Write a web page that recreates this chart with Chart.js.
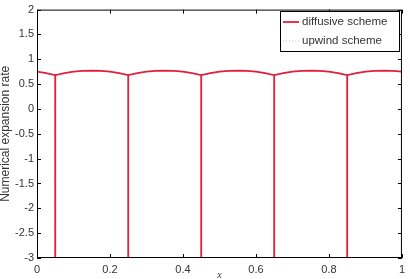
<!DOCTYPE html>
<html>
<head>
<meta charset="utf-8">
<script src="https://cdn.jsdelivr.net/npm/chart.js@4/dist/chart.umd.min.js"></script>
<style>
  body { margin: 0; background: #fff; }
  canvas { display: block; }
</style>
</head>
<body>
<canvas id="myChart" width="410" height="279"></canvas>
<script>
// posiciones en x (las caidas se repiten 3 veces para dibujar la linea vertical)
const xs = [0, 0.025,
    0.05, 0.05, 0.05, 0.075, 0.1, 0.125, 0.15, 0.175, 0.2, 0.225,
    0.25, 0.25, 0.25, 0.275, 0.3, 0.325, 0.35, 0.375, 0.4, 0.425,
    0.45, 0.45, 0.45, 0.475, 0.5, 0.525, 0.55, 0.575, 0.6, 0.625,
    0.65, 0.65, 0.65, 0.675, 0.7, 0.725, 0.75, 0.775, 0.8, 0.825,
    0.85, 0.85, 0.85, 0.875, 0.9, 0.925, 0.95, 0.975, 1];

const diffusive = [0.75, 0.72,
    0.68, -3, 0.68, 0.72, 0.75, 0.765, 0.77, 0.765, 0.75, 0.72,
    0.68, -3, 0.68, 0.72, 0.75, 0.765, 0.77, 0.765, 0.75, 0.72,
    0.68, -3, 0.68, 0.72, 0.75, 0.765, 0.77, 0.765, 0.75, 0.72,
    0.68, -3, 0.68, 0.72, 0.75, 0.765, 0.77, 0.765, 0.75, 0.72,
    0.68, -3, 0.68, 0.72, 0.75, 0.765, 0.77, 0.765, 0.75];

const upwind = [0.75, 0.72,
    0.68, -3, 0.68, 0.72, 0.75, 0.765, 0.77, 0.765, 0.75, 0.72,
    0.68, -3, 0.68, 0.72, 0.75, 0.765, 0.77, 0.765, 0.75, 0.72,
    0.68, -3, 0.68, 0.72, 0.75, 0.765, 0.77, 0.765, 0.75, 0.72,
    0.68, -3, 0.68, 0.72, 0.75, 0.765, 0.77, 0.765, 0.75, 0.72,
    0.68, -3, 0.68, 0.72, 0.75, 0.765, 0.77, 0.765, 0.75];

const seriesNames = ['diffusive scheme', 'upwind scheme'];
const xTicks = [0, 0.2, 0.4, 0.6, 0.8, 1];
const yTicks = [-3, -2.5, -2, -1.5, -1, -0.5, 0, 0.5, 1, 1.5, 2];

const FONT = "'Liberation Sans', Arial, sans-serif";

function toPoints(ys) {
    return xs.map((x, i) => ({ x: x, y: ys[i] }));
}

// marco negro, marcas hacia dentro y leyenda con caja (estilo matlab)
const framePlugin = {
    id: 'frame',
    afterDraw(chart) {
        const ctx = chart.ctx;
        const a = chart.chartArea;
        const sx = chart.scales.x;
        const sy = chart.scales.y;
        ctx.save();
        ctx.strokeStyle = '#000';
        ctx.lineWidth = 1;
        ctx.strokeRect(a.left + 0.5, a.top + 0.5, a.right - a.left - 1, a.bottom - a.top - 1);
        ctx.beginPath();
        xTicks.forEach(v => {
            let px = Math.round(sx.getPixelForValue(v)) + 0.5;
            ctx.moveTo(px, a.bottom); ctx.lineTo(px, a.bottom - 4);
            ctx.moveTo(px, a.top); ctx.lineTo(px, a.top + 4);
        });
        yTicks.forEach(v => {
            let py = Math.round(sy.getPixelForValue(v)) + 0.5;
            ctx.moveTo(a.left, py); ctx.lineTo(a.left + 4, py);
            ctx.moveTo(a.right, py); ctx.lineTo(a.right - 4, py);
        });
        ctx.stroke();

        // leyenda
        const bx = 280, by = 11, bw = 119, bh = 40;
        ctx.fillStyle = '#fff';
        ctx.fillRect(bx, by, bw, bh);
        ctx.strokeStyle = '#000';
        ctx.strokeRect(bx + 0.5, by + 0.5, bw, bh);
        ctx.font = '11.5px ' + FONT;
        ctx.textBaseline = 'middle';
        chart.data.datasets.forEach((ds, i) => {
            let ly = by + 11 + i * 19;
            ctx.beginPath();
            ctx.strokeStyle = ds.borderColor;
            ctx.lineWidth = ds.borderWidth;
            ctx.setLineDash(ds.borderDash || []);
            ctx.moveTo(bx + 3, ly); ctx.lineTo(bx + 19, ly);
            ctx.stroke();
            ctx.setLineDash([]);
            ctx.fillStyle = '#333';
            ctx.fillText(ds.label, bx + 22, ly);
        });
        ctx.restore();
    }
};

const ctx = document.getElementById('myChart').getContext('2d');
const chart = new Chart(ctx, {
    type: 'line',
    data: {
        datasets: [{
            label: seriesNames[0],
            data: toPoints(diffusive),
            borderColor: '#e0203c',
            borderWidth: 1.8,
            pointRadius: 0,
            tension: 0,
            order: 1
        }, {
            label: seriesNames[1],
            data: toPoints(upwind),
            borderColor: '#c0c0c0',
            borderWidth: 1,
            borderDash: [1, 2],
            pointRadius: 0,
            tension: 0,
            order: 2
        }]
    },
    options: {
        responsive: false,
        animation: false,
        layout: { padding: { top: 7, right: 8, left: 0, bottom: 0 } },
        plugins: {
            legend: { display: false },
            tooltip: { enabled: false }
        },
        scales: {
            x: {
                type: 'linear',
                min: 0,
                max: 1,
                afterFit: (s) => { s.height = 21; },
                afterBuildTicks: (s) => { s.ticks = xTicks.map(v => ({ value: v })); },
                grid: { display: false, drawTicks: false },
                border: { display: false },
                ticks: {
                    padding: 5, color: '#333', maxRotation: 0,
                    font: { size: 11, family: FONT },
                    callback: (v) => String(v)
                },
                title: {
                    display: true,
                    text: 'x',
                    color: '#333',
                    font: { size: 10, style: 'italic', family: "'Liberation Serif', serif" },
                    padding: { top: 0, bottom: -2 }
                }
            },
            y: {
                min: -3,
                max: 2,
                afterFit: (s) => { s.width = 37; },
                afterBuildTicks: (s) => { s.ticks = yTicks.map(v => ({ value: v })); },
                grid: { display: false, drawTicks: false },
                border: { display: false },
                ticks: {
                    padding: 3, color: '#333',
                    font: { size: 11, family: FONT },
                    callback: (v) => String(v)
                },
                title: {
                    display: true,
                    text: 'Numerical expansion rate',
                    color: '#333',
                    font: { size: 12, family: FONT },
                    padding: { top: -2, bottom: 0 }
                }
            }
        }
    },
    plugins: [framePlugin]
});
</script>
</body>
</html>
